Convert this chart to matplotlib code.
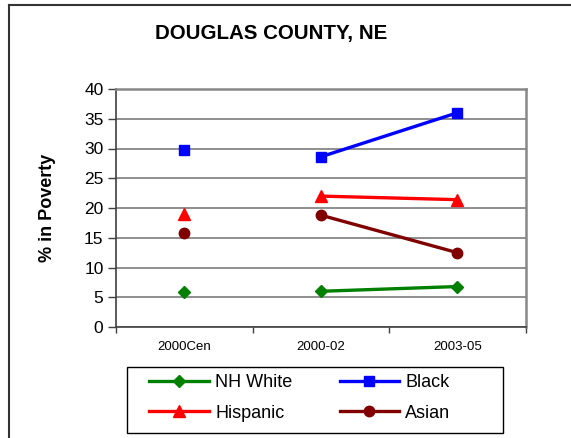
import matplotlib
matplotlib.use("Agg")
import matplotlib.pyplot as plt
from matplotlib.lines import Line2D
from matplotlib.patches import Rectangle
import numpy as np

plt.rcParams['font.family'] = ['Liberation Sans', 'DejaVu Sans']

categories = ["2000Cen", "2000-02", "2003-05"]
series_names = ["NH White", "Black", "Hispanic", "Asian"]
nh_white = [5.9, 6.0, 6.8]
black = [29.8, 28.6, 36.0]
hispanic = [19.0, 22.0, 21.4]
asian = [15.8, 18.8, 12.5]
yticks = [0, 5, 10, 15, 20, 25, 30, 35, 40]

styles = {
    "NH White": dict(color="#008000", marker="D", ms=6.5),
    "Black": dict(color="#0000FF", marker="s", ms=7.5),
    "Hispanic": dict(color="#FF0000", marker="^", ms=9),
    "Asian": dict(color="#800000", marker="o", ms=7.5),
}
values = {"NH White": nh_white, "Black": black, "Hispanic": hispanic, "Asian": asian}

W, H = 571, 438
fig = plt.figure(figsize=(W / 100, H / 100), dpi=100)
ax = fig.add_axes([116 / W, 1 - 327 / H, 409.5 / W, 238 / H])

x = np.arange(len(categories))
handles = {}
for name in series_names:
    st = styles[name]
    v = values[name]
    # census point stands alone; the survey periods are joined
    ax.plot(x[:1], v[:1], linestyle="none", marker=st["marker"], ms=st["ms"],
            color=st["color"], mec=st["color"], zorder=3, clip_on=False)
    h, = ax.plot(x[1:], v[1:], linestyle="-", lw=2.4, marker=st["marker"], ms=st["ms"],
                 color=st["color"], mec=st["color"], zorder=3, clip_on=False)
    handles[name] = h

ax.set_xlim(-0.5, 2.5)
ax.set_ylim(0, 40)
ax.set_yticks(yticks)
ax.set_yticklabels([str(t) for t in yticks], fontsize=12.5)
ax.yaxis.grid(True, color="#707070", lw=1.1)
ax.set_axisbelow(True)

ax.set_xticks(x)
ax.set_xticklabels(categories, fontsize=9.5)
ax.set_xticks([-0.5, 0.5, 1.5, 2.5], minor=True)
ax.tick_params(axis="x", which="major", length=0, pad=10)
ax.tick_params(axis="x", which="minor", length=4, width=1, color="#404040", direction="out")
ax.tick_params(axis="y", length=6, width=1, color="#404040", pad=3)

for side in ("top", "right"):
    ax.spines[side].set_color("#888888")
    ax.spines[side].set_linewidth(1.8)
ax.spines["left"].set_color("#404040")
ax.spines["bottom"].set_color("#404040")
ax.spines["left"].set_linewidth(1.2)
ax.spines["bottom"].set_linewidth(1.2)

ax.set_ylabel("% in Poverty", fontsize=13, fontweight="bold", labelpad=20)

fig.text(271 / W, 1 - 33 / H, "DOUGLAS COUNTY, NE", ha="center", va="center",
         fontsize=14.8, fontweight="bold")

# legend entries read row by row: NH White, Black / Hispanic, Asian
order = ["NH White", "Hispanic", "Black", "Asian"]
leg = fig.legend([handles[n] for n in order], order, ncol=2, loc="center",
                 bbox_to_anchor=(300 / W, 1 - 398 / H), fontsize=13,
                 frameon=False, handlelength=3.3, handletextpad=0.35,
                 columnspacing=2.6, borderpad=0.0, labelspacing=0.75)

fig.add_artist(Rectangle((127 / W, 1 - 433 / H), 376 / W, 66 / H,
                         transform=fig.transFigure, fill=False,
                         edgecolor="black", lw=1.0))

# outer chart border (left and top edges)
fig.add_artist(Line2D([9 / W, 9 / W], [0, 1 - 5 / H], transform=fig.transFigure,
                      color="#333333", lw=1.5))
fig.add_artist(Line2D([9 / W, 1], [1 - 5 / H, 1 - 5 / H], transform=fig.transFigure,
                      color="#333333", lw=1.5))

fig.savefig("out.png", dpi=100)
